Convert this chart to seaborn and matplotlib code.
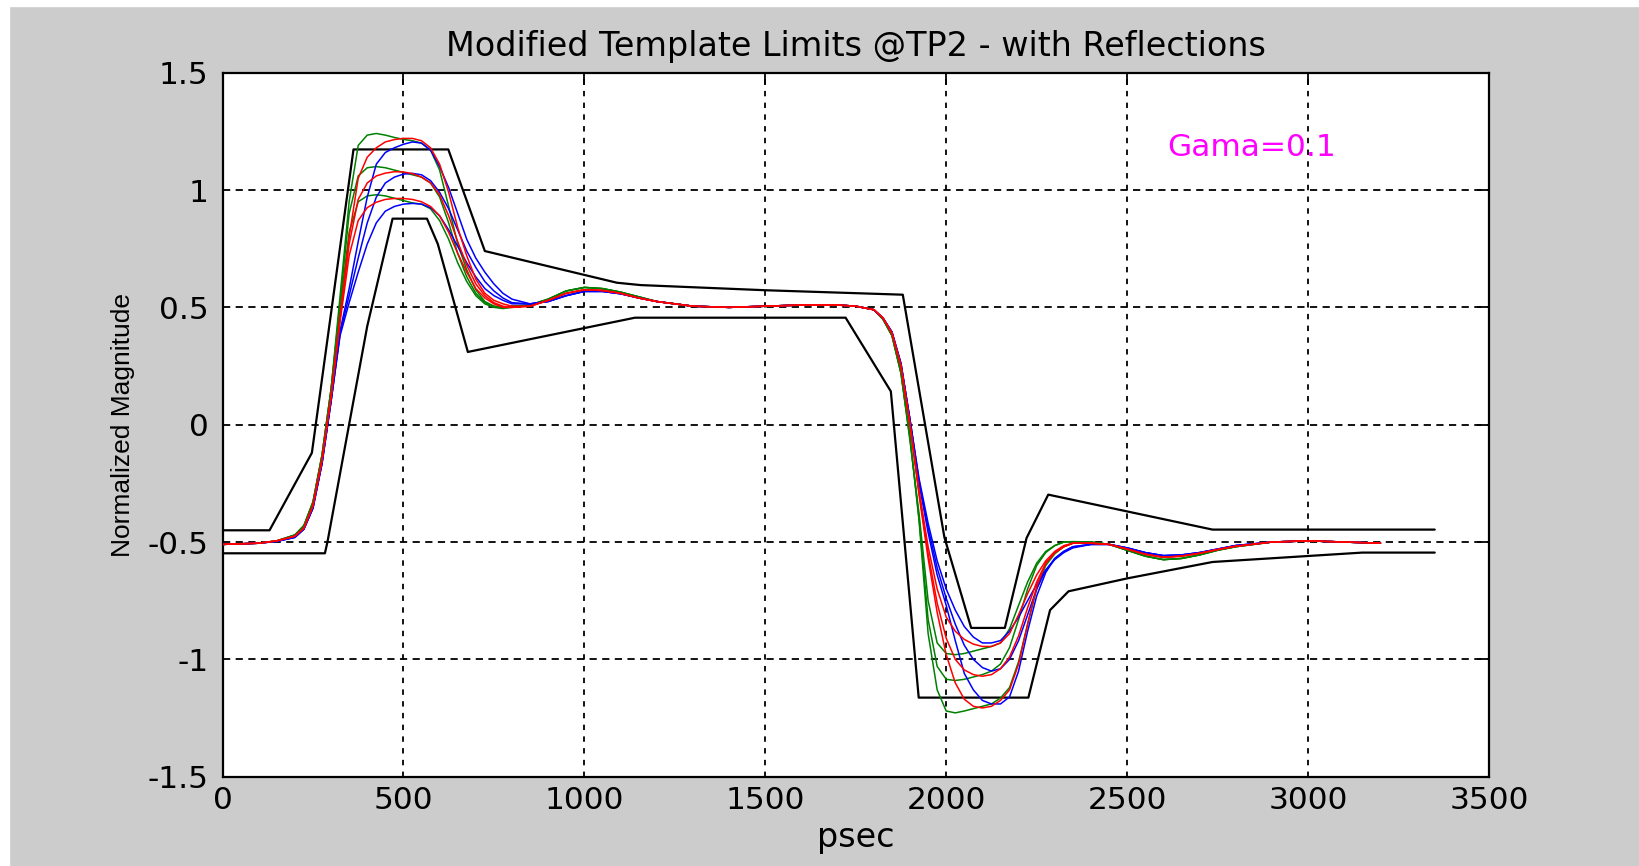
import matplotlib
matplotlib.use("Agg")
import matplotlib.pyplot as plt
from matplotlib.patches import Rectangle
import seaborn as sns
import pandas as pd

# ---------------- data ----------------
title = "Modified Template Limits @TP2 - with Reflections"
x_label = "psec"
y_label = "Normalized Magnitude"
note = "Gama=0.1"
x_ticks = [0, 500, 1000, 1500, 2000, 2500, 3000, 3500]
y_ticks = [-1.5, -1, -0.5, 0, 0.5, 1, 1.5]
y_ticklabels = ["-1.5", "-1", "-0.5", "0", "0.5", "1", "1.5"]

# template limits (polyline vertices)
upper_t = [0, 130, 247, 362, 624, 725, 1090, 1155, 1500, 1880, 1995, 2069, 2162, 2222, 2282, 2736, 3350]
upper_y = [-0.45, -0.45, -0.12, 1.173, 1.173, 0.74, 0.605, 0.595, 0.573, 0.554, -0.48, -0.866, -0.866, -0.483, -0.298, -0.447, -0.447]
lower_t = [0, 283, 290, 400, 470, 565, 595, 678, 1140, 1722, 1847, 1924, 2227, 2287, 2338, 2500, 2736, 3150, 3350]
lower_y = [-0.548, -0.548, -0.50, 0.42, 0.878, 0.878, 0.77, 0.31, 0.456, 0.456, 0.142, -1.163, -1.163, -0.79, -0.71, -0.655, -0.585, -0.545, -0.545]

# sample times of the simulated waveforms (psec)
t_sig = [0, 100, 150, 200, 225, 250, 275, 300,
         325, 350, 375, 400, 425, 450, 475, 500, 525, 550, 575, 600, 625, 650, 675, 700, 725, 750, 775, 800,
         850, 900, 950, 1000, 1050, 1100, 1150, 1200, 1300, 1400, 1500, 1600, 1700, 1750,
         1800, 1825, 1850, 1875, 1900, 1925, 1950, 1975, 2000, 2025, 2050, 2075, 2100, 2125, 2150, 2175,
         2200, 2225, 2250, 2275, 2300, 2325, 2350,
         2400, 2450, 2500, 2550, 2600, 2650, 2700, 2750, 2800, 2900, 3000, 3100, 3200]

green_hi = [-0.51, -0.505, -0.495, -0.47, -0.43, -0.33, -0.13, 0.15,
            0.55, 0.95, 1.19, 1.234, 1.241, 1.234, 1.224, 1.216, 1.21, 1.20, 1.17, 1.085, 0.93, 0.77, 0.66, 0.575, 0.525, 0.505, 0.50, 0.505,
            0.51, 0.535, 0.57, 0.585, 0.58, 0.565, 0.545, 0.525, 0.505, 0.50, 0.505, 0.51, 0.51, 0.505,
            0.49, 0.45, 0.38, 0.22, -0.05, -0.41, -0.89, -1.13, -1.22, -1.228, -1.22, -1.21, -1.20, -1.19, -1.165, -1.12,
            -1.01, -0.85, -0.70, -0.60, -0.55, -0.52, -0.505,
            -0.50, -0.51, -0.535, -0.56, -0.575, -0.57, -0.555, -0.535, -0.52, -0.50, -0.495, -0.50, -0.505]
green_mid = [-0.51, -0.505, -0.495, -0.47, -0.43, -0.33, -0.13, 0.15,
             0.52, 0.90, 1.06, 1.095, 1.10, 1.095, 1.085, 1.075, 1.065, 1.055, 1.03, 0.97, 0.86, 0.73, 0.63, 0.56, 0.52, 0.505, 0.50, 0.505,
             0.51, 0.535, 0.57, 0.585, 0.58, 0.565, 0.545, 0.525, 0.505, 0.50, 0.505, 0.51, 0.51, 0.505,
             0.49, 0.45, 0.38, 0.22, -0.06, -0.40, -0.83, -1.03, -1.085, -1.09, -1.085, -1.075, -1.065, -1.05, -1.02, -0.95,
             -0.83, -0.70, -0.60, -0.545, -0.515, -0.50, -0.50,
             -0.50, -0.51, -0.535, -0.56, -0.575, -0.57, -0.555, -0.535, -0.52, -0.50, -0.495, -0.50, -0.505]
green_lo = [-0.51, -0.505, -0.495, -0.47, -0.43, -0.33, -0.13, 0.15,
            0.50, 0.82, 0.95, 0.975, 0.98, 0.975, 0.965, 0.955, 0.945, 0.94, 0.92, 0.87, 0.79, 0.69, 0.61, 0.55, 0.515, 0.50, 0.495, 0.50,
            0.51, 0.535, 0.57, 0.585, 0.58, 0.565, 0.545, 0.525, 0.505, 0.50, 0.505, 0.51, 0.51, 0.505,
            0.49, 0.45, 0.38, 0.22, -0.07, -0.38, -0.75, -0.93, -0.975, -0.98, -0.975, -0.965, -0.955, -0.945, -0.93, -0.87,
            -0.77, -0.67, -0.59, -0.54, -0.515, -0.50, -0.498,
            -0.50, -0.51, -0.535, -0.56, -0.575, -0.57, -0.555, -0.535, -0.52, -0.50, -0.495, -0.50, -0.505]

blue_hi = [-0.51, -0.505, -0.497, -0.48, -0.445, -0.355, -0.165, 0.10,
           0.40, 0.58, 0.78, 0.97, 1.11, 1.16, 1.18, 1.195, 1.205, 1.20, 1.17, 1.10, 1.01, 0.90, 0.79, 0.71, 0.65, 0.60, 0.56, 0.535,
           0.515, 0.525, 0.55, 0.568, 0.568, 0.558, 0.54, 0.525, 0.505, 0.50, 0.505, 0.51, 0.51, 0.505,
           0.49, 0.455, 0.395, 0.26, 0.02, -0.25, -0.46, -0.64, -0.77, -0.92, -1.06, -1.13, -1.175, -1.19, -1.19, -1.16,
           -1.05, -0.88, -0.73, -0.63, -0.57, -0.54, -0.52,
           -0.51, -0.51, -0.525, -0.545, -0.558, -0.555, -0.545, -0.53, -0.515, -0.50, -0.495, -0.50, -0.505]
blue_mid = [-0.51, -0.505, -0.497, -0.48, -0.445, -0.355, -0.165, 0.10,
            0.39, 0.55, 0.71, 0.86, 0.97, 1.03, 1.055, 1.068, 1.071, 1.065, 1.04, 0.99, 0.92, 0.83, 0.74, 0.67, 0.61, 0.57, 0.54, 0.52,
            0.515, 0.525, 0.55, 0.568, 0.568, 0.558, 0.54, 0.525, 0.505, 0.50, 0.505, 0.51, 0.51, 0.505,
            0.49, 0.455, 0.395, 0.26, 0.02, -0.24, -0.44, -0.61, -0.74, -0.85, -0.94, -1.00, -1.035, -1.05, -1.04, -1.00,
            -0.92, -0.81, -0.70, -0.62, -0.57, -0.54, -0.52,
            -0.51, -0.51, -0.525, -0.545, -0.558, -0.555, -0.545, -0.53, -0.515, -0.50, -0.495, -0.50, -0.505]
blue_lo = [-0.51, -0.505, -0.497, -0.48, -0.445, -0.355, -0.165, 0.10,
           0.38, 0.52, 0.65, 0.77, 0.86, 0.91, 0.93, 0.94, 0.943, 0.94, 0.925, 0.89, 0.83, 0.76, 0.69, 0.63, 0.58, 0.55, 0.53, 0.515,
           0.515, 0.525, 0.55, 0.568, 0.568, 0.558, 0.54, 0.525, 0.505, 0.50, 0.505, 0.51, 0.51, 0.505,
           0.49, 0.455, 0.395, 0.26, 0.02, -0.23, -0.42, -0.58, -0.70, -0.79, -0.86, -0.905, -0.93, -0.93, -0.92, -0.88,
           -0.82, -0.75, -0.68, -0.62, -0.575, -0.545, -0.525,
           -0.51, -0.51, -0.525, -0.545, -0.558, -0.555, -0.545, -0.53, -0.515, -0.50, -0.495, -0.50, -0.505]

red_hi = [-0.51, -0.505, -0.495, -0.475, -0.44, -0.345, -0.15, 0.12,
          0.46, 0.80, 1.05, 1.14, 1.18, 1.205, 1.215, 1.22, 1.22, 1.21, 1.18, 1.11, 0.99, 0.84, 0.72, 0.62, 0.56, 0.53, 0.515, 0.505,
          0.505, 0.53, 0.56, 0.575, 0.572, 0.56, 0.54, 0.525, 0.505, 0.50, 0.505, 0.51, 0.51, 0.505,
          0.49, 0.455, 0.39, 0.25, 0.0, -0.30, -0.57, -0.80, -0.98, -1.10, -1.17, -1.20, -1.207, -1.20, -1.175, -1.13,
          -1.02, -0.85, -0.69, -0.59, -0.545, -0.52, -0.505,
          -0.505, -0.51, -0.53, -0.552, -0.565, -0.56, -0.548, -0.532, -0.518, -0.50, -0.495, -0.50, -0.505]
red_mid = [-0.51, -0.505, -0.495, -0.475, -0.44, -0.345, -0.15, 0.12,
           0.45, 0.77, 0.96, 1.03, 1.06, 1.072, 1.078, 1.077, 1.07, 1.055, 1.03, 0.98, 0.89, 0.78, 0.68, 0.60, 0.55, 0.52, 0.505, 0.50,
           0.505, 0.53, 0.56, 0.575, 0.572, 0.56, 0.54, 0.525, 0.505, 0.50, 0.505, 0.51, 0.51, 0.505,
           0.49, 0.455, 0.39, 0.25, 0.0, -0.29, -0.55, -0.76, -0.91, -1.00, -1.045, -1.065, -1.072, -1.065, -1.04, -0.99,
           -0.90, -0.78, -0.67, -0.59, -0.545, -0.52, -0.505,
           -0.505, -0.51, -0.53, -0.552, -0.565, -0.56, -0.548, -0.532, -0.518, -0.50, -0.495, -0.50, -0.505]
red_lo = [-0.51, -0.505, -0.495, -0.475, -0.44, -0.345, -0.15, 0.12,
          0.44, 0.72, 0.87, 0.925, 0.948, 0.96, 0.964, 0.964, 0.96, 0.95, 0.93, 0.89, 0.82, 0.73, 0.65, 0.58, 0.54, 0.515, 0.50, 0.50,
          0.505, 0.53, 0.56, 0.575, 0.572, 0.56, 0.54, 0.525, 0.505, 0.50, 0.505, 0.51, 0.51, 0.505,
          0.49, 0.455, 0.39, 0.25, 0.0, -0.28, -0.52, -0.70, -0.82, -0.88, -0.915, -0.935, -0.945, -0.945, -0.93, -0.89,
          -0.81, -0.72, -0.64, -0.58, -0.54, -0.515, -0.505,
          -0.505, -0.51, -0.53, -0.552, -0.565, -0.56, -0.548, -0.532, -0.518, -0.50, -0.495, -0.50, -0.505]

curves = [
    ("#008000", green_hi), ("#008000", green_mid), ("#008000", green_lo),
    ("#0000ff", blue_hi), ("#0000ff", blue_mid), ("#0000ff", blue_lo),
    ("#ff0000", red_hi), ("#ff0000", red_mid), ("#ff0000", red_lo),
]

# ---------------- style ----------------
sns.set_style("white")
plt.rcParams["font.family"] = ["DejaVu Sans"]
plt.rcParams["axes.unicode_minus"] = False
plt.rcParams["text.color"] = "black"
plt.rcParams["axes.labelcolor"] = "black"

W, H = 1639, 866
fig = plt.figure(figsize=(W / 100, H / 100), dpi=100, facecolor="#cccccc")
# thin white margin strips at top and left (as in the screenshot)
fig.add_artist(Rectangle((0, 1 - 6 / H), 1, 6 / H, transform=fig.transFigure, color="white", zorder=-1))
fig.add_artist(Rectangle((0, 0), 9 / W, 1, transform=fig.transFigure, color="white", zorder=-1))

L, R, T, B = 222.5, 1489, 72.7, 776.7
ax = fig.add_axes([L / W, 1 - B / H, (R - L) / W, (B - T) / H])
ax.set_facecolor("white")

# grid
for xv in x_ticks[1:-1]:
    ax.axvline(xv, color="black", lw=1.3, ls=(0, (3, 3.5)), zorder=1)
for yv in y_ticks[1:-1]:
    ax.axhline(yv, color="black", lw=1.3, ls=(0, (4, 3)), zorder=1)

# templates
sns.lineplot(x=upper_t, y=upper_y, sort=False, estimator=None, color="black", lw=1.6, ax=ax, zorder=3)
sns.lineplot(x=lower_t, y=lower_y, sort=False, estimator=None, color="black", lw=1.6, ax=ax, zorder=3)

# waveforms
for col, vals in curves:
    df = pd.DataFrame({"t": t_sig, "v": vals})
    sns.lineplot(data=df, x="t", y="v", sort=False, estimator=None, color=col, lw=1.1, ax=ax, zorder=4)

ax.text(2610, 1.18, note, color="#ff00ff", fontsize=22.5, ha="left", va="center", zorder=5)

ax.set_xlim(0, 3500)
ax.set_ylim(-1.5, 1.5)
ax.set_xticks(x_ticks)
ax.set_xticklabels([str(v) for v in x_ticks])
ax.set_yticks(y_ticks)
ax.set_yticklabels(y_ticklabels)
ax.tick_params(axis="both", direction="in", length=8.5, width=1.3, top=True, right=True,
               labelsize=22.5, colors="black")
ax.tick_params(axis="x", pad=7)
ax.tick_params(axis="y", pad=10)
for s in ax.spines.values():
    s.set_visible(True)
    s.set_color("black")
    s.set_linewidth(1.6)

ax.set_title(title, fontsize=24, pad=12, color="black")
ax.set_xlabel(x_label, fontsize=24, labelpad=4, color="black")
ax.set_ylabel(y_label, fontsize=19, labelpad=9, color="black", family=["Liberation Sans", "DejaVu Sans"])

fig.savefig("out.png", dpi=100, facecolor=fig.get_facecolor())
